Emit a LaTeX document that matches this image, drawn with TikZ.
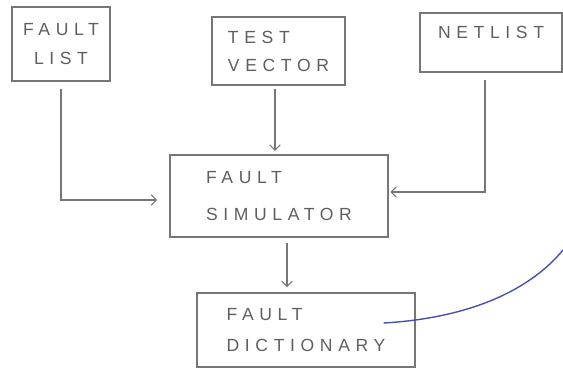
\documentclass[tikz,border=0pt]{standalone}
\usepackage{fontspec}
\setmainfont{Liberation Sans}[LetterSpace=32]
\usetikzlibrary{positioning,arrows.meta,calc}

\definecolor{pencil}{RGB}{118,118,118}
\definecolor{inktext}{RGB}{95,95,95}
\definecolor{biro}{RGB}{70,82,172}

\begin{document}
\begin{tikzpicture}[
    % Box and text styles - pencil look
    sketchbox/.style={draw=pencil, line width=0.6pt, text=inktext, align=left,
        font=\fontsize{10}{12}\selectfont, inner sep=0pt},
    % Connector styles
    arr/.style={draw=pencil, line width=0.6pt, -{Straight Barb[length=3pt,width=6pt]}},
    pen/.style={draw=biro, line width=0.8pt},
]
\useasboundingbox (0,0) rectangle (11.26,-7.52);

% Input boxes along the top
\node[sketchbox, align=center, minimum width=1.96cm, minimum height=1.48cm] (flist) at (1.22,-0.88)
    {FAULT\\[4pt]LIST};
\node[sketchbox, minimum width=2.66cm, minimum height=1.36cm] (tvec) at (5.57,-1.02)
    {TEST\\[4pt]VECTOR};
\node[sketchbox, minimum width=2.84cm, minimum height=1.18cm, text depth=11pt] (netlist) at (9.82,-0.85)
    {NETLIST};

% Simulator and dictionary
\node[sketchbox, minimum width=4.36cm, minimum height=1.64cm] (sim) at (5.58,-3.92)
    {FAULT\\[9pt]SIMULATOR};
\node[sketchbox, minimum width=4.36cm, minimum height=1.48cm] (dict) at (6.12,-6.60)
    {FAULT\\[6pt]DICTIONARY};

% Connectors
\draw[arr, shorten <=4pt, shorten >=7pt] (flist.south) |- ([yshift=-0.08cm]sim.west);
\draw[arr, shorten <=2pt, shorten >=2pt] ([xshift=-0.07cm]tvec.south) -- ([xshift=-0.07cm]tvec.south |- sim.north);
\draw[arr, shorten <=4pt, shorten >=1pt] ([xshift=-0.12cm]netlist.south) |- ([yshift=0.08cm]sim.east);
\draw[arr, shorten <=3pt, shorten >=3pt] ([xshift=0.16cm]sim.south) -- ([xshift=0.16cm]sim.south |- dict.north);

% Blue pen stroke leaving the dictionary
\coordinate (penend) at (11.26,-5.0);
\draw[pen] ([xshift=-0.64cm,yshift=0.14cm]dict.east) .. controls (9.40,-6.36) and (10.60,-5.80) .. (penend);

\end{tikzpicture}
\end{document}
